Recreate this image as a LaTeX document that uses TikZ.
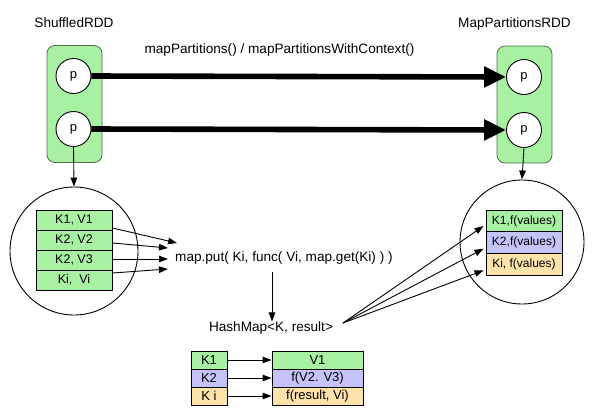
\documentclass[tikz,border=0pt]{standalone}
\usepackage{fontspec}
\setmainfont{Liberation Sans}
\usetikzlibrary{arrows.meta,calc}
\definecolor{gfill}{RGB}{168,240,162}
\definecolor{bfill}{RGB}{196,196,250}
\definecolor{ofill}{RGB}{253,226,170}
\definecolor{gline}{RGB}{80,110,80}
\begin{document}
\begin{tikzpicture}[x=1pt,y=-1pt,
 lbl/.style={font=\fontsize{13.6}{16}\selectfont, inner sep=0pt},
 cell/.style={draw=black, line width=0.9pt, minimum width=76pt, minimum height=20pt, inner sep=0pt, font=\fontsize{12.5}{14}\selectfont},
 bcell/.style={draw=black, line width=0.9pt, minimum height=18pt, inner sep=0pt, font=\fontsize{13}{15}\selectfont},
 part/.style={circle, draw, line width=0.9pt, fill=white, minimum size=35pt, inner sep=0pt, font=\fontsize{13}{15}\selectfont},
 rdd/.style={draw=gline, line width=0.8pt, fill=gfill, rounded corners=8pt, minimum width=55pt, minimum height=117pt, inner sep=0pt},
 bigc/.style={circle, draw, line width=0.9pt, inner sep=0pt},
 thickarr/.style={line width=5.6pt, -{Triangle[length=22pt,width=20pt]}},
 sm/.style={line width=0.9pt, -{Triangle[length=9pt,width=6.5pt]}}
]
\useasboundingbox (0,0) rectangle (598,416);

% labels
\node[lbl] (lshuf) at (74,23) {ShuffledRDD};
\node[lbl] (lmapr) at (514.5,24) {MapPartitionsRDD};
\node[lbl] (lmp) at (279.5,50) {mapPartitions() / mapPartitionsWithContext()};

% RDD boxes
\node[rdd] (lbox) at (74.5,104) {};
\node[rdd] (rbox) at (524.5,104.5) {};
\node[part] (lp1) at (73.5,76) {p};
\node[part] (lp2) at (73.5,129) {p};
\node[part] (rp1) at (524,77) {p};
\node[part] (rp2) at (524,130) {p};

\draw[thickarr] (lp1.east) -- (rp1.west);
\draw[thickarr] (lp2.east) -- (rp2.west);

% big circles
\node[bigc, minimum size=128pt] (lbig) at (74,251) {};
\node[bigc, minimum size=124pt] (rbig) at (522,242) {};
\draw[sm] (lp2.south) -- (lbig.north);
\draw[sm] (rp2.south) -- (rbig.north);

% left table
\node[cell, fill=gfill] (lr1) at (74,220) {K1, V1};
\node[cell, fill=gfill] (lr2) at (74,240) {K2, V2};
\node[cell, fill=gfill] (lr3) at (74,260) {K2, V3};
\node[cell, fill=gfill] (lr4) at (74,280) {Ki,\ \ Vi};

% right table
\node[cell, fill=gfill, minimum height=21.7pt, font=\fontsize{12}{14}\selectfont] (rr1) at (524,221) {K1,f(values)};
\node[cell, fill=bfill, minimum height=21.7pt, font=\fontsize{12}{14}\selectfont] (rr2) at (524,242.7) {K2,f(values)};
\node[cell, fill=ofill, minimum height=21.7pt, font=\fontsize{12}{14}\selectfont] (rr3) at (524,264.4) {Ki, f(values)};

% map.put
\node[lbl, anchor=west] (mput) at (175,258) {map.put( Ki, func( Vi, map.get(Ki) ) )};
\coordinate (e1) at ($(mput.west)+(2,-15)$);
\coordinate (e2) at ($(mput.west)+(-7,-10)$);
\coordinate (e3) at ($(mput.west)+(-7,1)$);
\coordinate (e4) at ($(mput.west)+(-7,11)$);
\draw[sm] ($(lr1.east)+(0,8)$) -- (e1);
\draw[sm] ($(lr2.east)+(0,3)$) -- (e2);
\draw[sm] ($(lr3.east)+(0,-1)$) -- (e3);
\draw[sm] ($(lr4.east)+(0,-7)$) -- (e4);

% HashMap
\node[lbl] (hmap) at (271,328) {HashMap<K, result>};
\coordinate (ms) at (272,272);
\draw[sm] (ms) -- (ms |- hmap.north);
\coordinate (hs) at (343,323);
\draw[sm] (hs) -- ($(rr1.west)+(-2,5)$);
\draw[sm] (hs) -- ($(rr2.west)+(-2,6)$);
\draw[sm] (hs) -- ($(rr3.west)+(-2,6)$);

% bottom tables
\node[bcell, fill=gfill, minimum width=36pt] (bk1) at (209,360) {K1};
\node[bcell, fill=bfill, minimum width=36pt] (bk2) at (209,378) {K2};
\node[bcell, fill=ofill, minimum width=36pt] (bk3) at (209,396) {K i};
\node[bcell, fill=gfill, minimum width=91pt] (bv1) at (317.5,360) {V1};
\node[bcell, fill=bfill, minimum width=91pt] (bv2) at (317.5,378) {f(V2. V3)};
\node[bcell, fill=ofill, minimum width=91pt] (bv3) at (317.5,396) {f(result, Vi)};
\draw[sm] (bk1.east) -- (bv1.west);
\draw[sm] (bk2.east) -- (bv2.west);
\draw[sm] (bk3.east) -- (bv3.west);
\end{tikzpicture}
\end{document}
